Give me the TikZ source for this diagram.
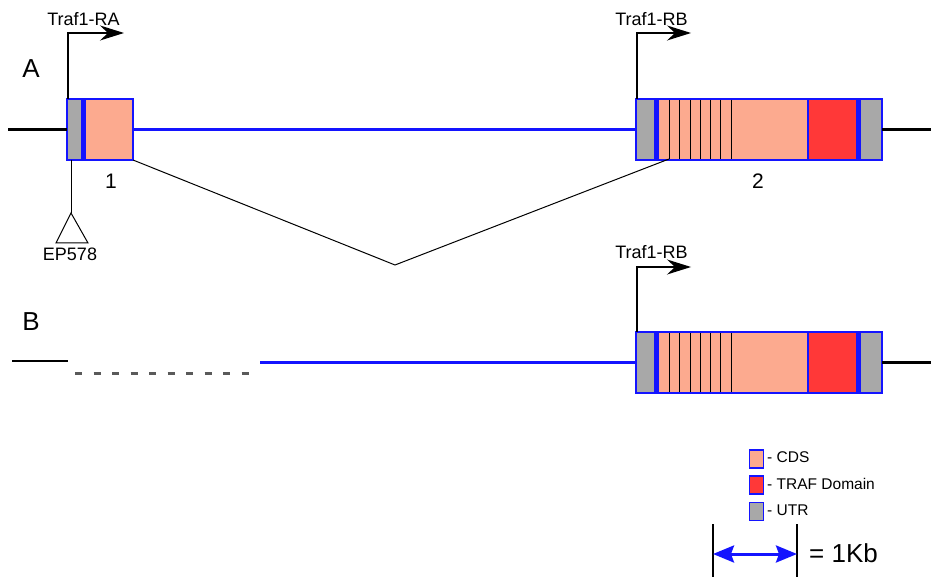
\documentclass[tikz,border=0pt]{standalone}
\usepackage{fontspec}
\setmainfont{Liberation Sans}
\usetikzlibrary{arrows.meta}
\definecolor{cdscol}{RGB}{252,170,143}
\definecolor{trafcol}{RGB}{255,56,56}
\definecolor{utrcol}{RGB}{168,168,168}
\definecolor{bl}{RGB}{20,20,255}
\definecolor{dgray}{RGB}{90,90,90}
\begin{document}
\begin{tikzpicture}[x=1pt,y=-1pt,
  seg/.style={draw=bl,line width=2.6pt,inner sep=0pt,outer sep=0pt,anchor=north west,minimum height=61pt},
  bbone/.style={line width=2.6pt},
  intron/.style={bl,line width=2.6pt},
  divider/.style={bl,line width=5pt},
  stripe/.style={black,line width=1pt},
  prom/.style={black,line width=1.2pt,-{Stealth[length=24pt,width=15pt,inset=8pt]}},
  lbl/.style={font=\fontsize{18}{20}\selectfont,inner sep=0pt},
  num/.style={font=\fontsize{21}{24}\selectfont,inner sep=0pt},
  big/.style={font=\fontsize{26}{30}\selectfont,inner sep=0pt},
  leg/.style={draw=bl,line width=1.6pt,inner sep=0pt,minimum width=14pt,minimum height=18pt,anchor=north west},
  legt/.style={font=\fontsize{15.5}{18}\selectfont,inner sep=0pt,anchor=west}
]
\useasboundingbox (0,0) rectangle (931,577);
\fill[white] (0,0) rectangle (931,577);

% ---------- Row A ----------
\node[big] (labA) at (31,68.5) {A};
% exon 1
\node[seg,fill=utrcol,minimum width=16pt] (u1) at (67,99) {};
\node[seg,fill=cdscol,minimum width=50pt] (c1) at (83,99) {};
\draw[divider] (u1.north east) -- (u1.south east);
\node[num] (n1) at (111,181.5) {1};
% exon 2
\node[seg,fill=utrcol,minimum width=20pt] (u2) at (636,99) {};
\node[seg,fill=cdscol,minimum width=152pt] (c2) at (656,99) {};
\node[seg,fill=trafcol,minimum width=50pt] (t2) at (808,99) {};
\node[seg,fill=utrcol,minimum width=24pt] (v2) at (858,99) {};
\draw[divider] (u2.north east) -- (u2.south east);
\draw[divider] (v2.north west) -- (v2.south west);
\foreach \x/\n in {669/1,679.5/2,690/3,700/4,710/5,720.5/6,731/7}{
  \draw[stripe] (\x,100) coordinate (sa\n) -- (\x,159) coordinate (sb\n);
}
\node[num] (n2) at (758,181) {2};
% backbone
\coordinate (aL) at (8,129.5);
\coordinate (aR) at (931,129.5);
\draw[bbone] (aL) -- (u1.west);
\draw[intron] (c1.east) -- (u2.west);
\draw[bbone] (v2.east) -- (aR);
% splicing
\coordinate (vtx) at (395,265);
\draw[black,line width=1pt] (c1.south east) -- (vtx) -- (sb1);
% promoter arrows
\coordinate (raE) at (124,33);
\draw[prom] ([xshift=1pt]u1.north west) |- (raE);
\node[lbl,anchor=base] (raT) at (83.5,25.5) {Traf1-RA};
\coordinate (rbE) at (691,33);
\draw[prom] ([xshift=1pt]u2.north west) |- (rbE);
\node[lbl,anchor=base] (rbT) at (651.5,25.5) {Traf1-RB};
% EP578 insertion
\coordinate (epTop) at (71,160);
\coordinate (epA) at (71,213);
\coordinate (epL) at (56,243);
\coordinate (epR) at (88,243);
\draw[black,line width=1pt] (epTop) -- (epA);
\draw[black,line width=1pt] (epA) -- (epL) -- (epR) -- cycle;
\node[lbl] (epT) at (70,254) {EP578};

% ---------- Row B ----------
\node[big] (labB) at (31,322) {B};
\node[seg,fill=utrcol,minimum width=20pt] (u3) at (636,332) {};
\node[seg,fill=cdscol,minimum width=152pt] (c3) at (656,332) {};
\node[seg,fill=trafcol,minimum width=50pt] (t3) at (808,332) {};
\node[seg,fill=utrcol,minimum width=24pt] (v3) at (858,332) {};
\draw[divider] (u3.north east) -- (u3.south east);
\draw[divider] (v3.north west) -- (v3.south west);
\foreach \x/\n in {669/1,679.5/2,690/3,700/4,710/5,720.5/6,731/7}{
  \draw[stripe] (\x,333) -- (\x,392);
}
\coordinate (bL1) at (12,361);
\coordinate (bL2) at (68,361);
\draw[bbone] (bL1) -- (bL2);
\coordinate (dL) at (75,373.5);
\coordinate (dR) at (252,373.5);
\draw[dgray,line width=3pt,dash pattern=on 7pt off 11.5pt] (dL) -- (dR);
\coordinate (bI) at (260,362.5);
\draw[intron] (bI) -- (u3.west);
\coordinate (bR) at (931,362.5);
\draw[bbone] (v3.east) -- (bR);
\coordinate (rb2E) at (691,267);
\draw[prom] ([xshift=1pt]u3.north west) |- (rb2E);
\node[lbl,anchor=base] (rb2T) at (651.5,258.5) {Traf1-RB};

% ---------- Legend ----------
\node[leg,fill=cdscol] (lg1) at (748.5,449) {};
\node[legt] (lt1) at (767,457.5) {- CDS};
\node[leg,fill=trafcol] (lg2) at (748.5,475) {};
\node[legt] (lt2) at (767,483.5) {- TRAF Domain};
\node[leg,fill=utrcol] (lg3) at (748.5,501.5) {};
\node[legt] (lt3) at (767,510.5) {- UTR};

% ---------- Scale ----------
\coordinate (s1t) at (713,524);
\coordinate (s1b) at (713,577);
\coordinate (s2t) at (797,524);
\coordinate (s2b) at (797,577);
\draw[black,line width=1.2pt] (s1t) -- (s1b);
\draw[black,line width=1.2pt] (s2t) -- (s2b);
\coordinate (a1) at (713,554);
\coordinate (a2) at (797,554);
\draw[bl,line width=3pt,{Stealth[length=21pt,width=17pt,inset=3pt]}-{Stealth[length=21pt,width=17pt,inset=3pt]}] (a1) -- (a2);
\node[big,anchor=west] (kb) at (809,553) {= 1Kb};
\end{tikzpicture}
\end{document}
